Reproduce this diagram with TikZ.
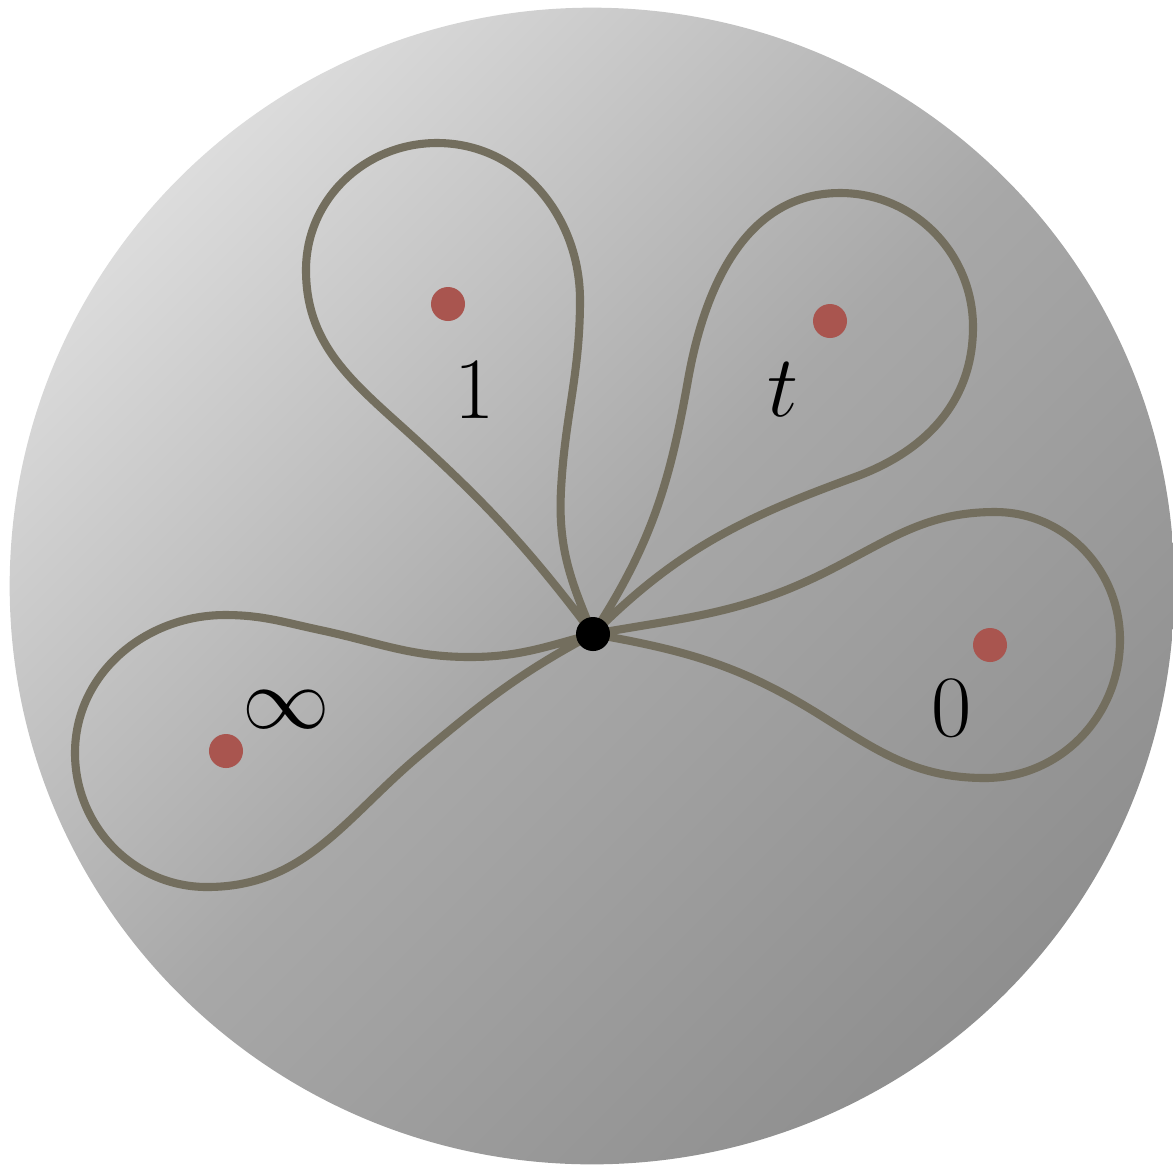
\documentclass[tikz,border=0pt]{standalone}
\begin{document}
\begin{tikzpicture}[x=0.01cm,y=0.01cm,
  loopline/.style={draw=loopc,line width=2.3pt,line join=round},
  puncture/.style={circle,fill=dotc,inner sep=0pt,minimum size=0.34cm},
  basept/.style={circle,fill=black,inner sep=0pt,minimum size=0.34cm},
  lab/.style={font=\fontsize{27}{32}\selectfont}]
\definecolor{loopc}{HTML}{736E5E}
\definecolor{dotc}{HTML}{A9554F}
\definecolor{diskl}{HTML}{DCDCDC}
\definecolor{diskm}{HTML}{A8A8A8}
\definecolor{diskd}{HTML}{8F8F8F}
\useasboundingbox (0,0) rectangle (1173,-1166);
\begin{scope}
\clip (0,0) rectangle (1173,-1166);
\shade[top color=diskl,bottom color=diskd,middle color=diskm,shading angle=45]
  (592,-586) ellipse [x radius=5.82cm,y radius=5.78cm];
\end{scope}
\coordinate (b) at (593,-634);
% loop around 1
\draw[loopline] (b) to[out=127,in=-42] (400,-425) to[out=138,in=-90] (306,-270)
  to[out=90,in=180] (437,-143) to[out=0,in=90] (580,-300)
  to[out=-90,in=87] (561,-490) to[out=-93,in=113] (b);
% loop around t
\draw[loopline] (b) to[out=57,in=-100] (688,-380) to[out=80,in=180] (840,-193)
  to[out=0,in=90] (973,-327) to[out=-90,in=20] (855,-477)
  to[out=200,in=45] (b);
% loop around 0
\draw[loopline] (b) to[out=10,in=207] (830,-570) to[out=27,in=180] (995,-512)
  to[out=0,in=90] (1120,-640) to[out=-90,in=0] (985,-778)
  to[out=180,in=-32] (820,-715) to[out=148,in=-10] (b);
% loop around infinity
\draw[loopline] (b) to[out=195,in=0] (470,-657) to[out=180,in=-12] (320,-630)
  to[out=168,in=0] (225,-615) to[out=180,in=90] (75,-753)
  to[out=-90,in=180] (207,-887) to[out=0,in=220] (420,-755)
  to[out=40,in=208] (b);
\node[basept] (base) at (b) {};
\node[puncture] (p1) at (448,-304) {};
\node[puncture] (pt) at (830,-321) {};
\node[puncture] (p0) at (990,-645) {};
\node[puncture] (pinf) at (226,-751) {};
\node[lab] (l1) at (475,-390) {$1$};
\node[lab] (lt) at (783,-390) {$t$};
\node[lab] (l0) at (952,-708) {$0$};
\node[lab] (linf) at (286,-710) {$\infty$};
\end{tikzpicture}
\end{document}
